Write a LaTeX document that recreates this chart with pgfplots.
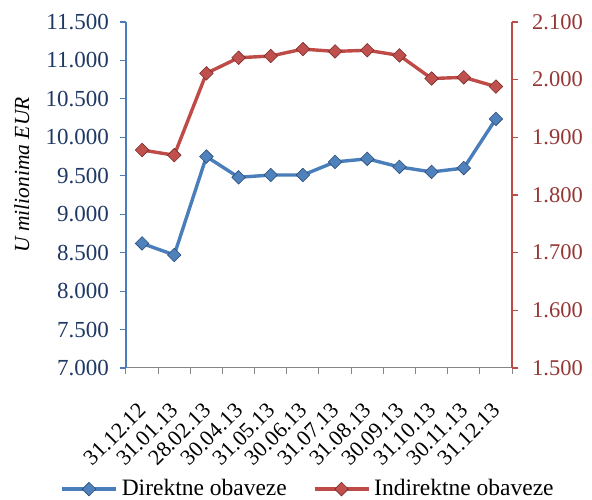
\documentclass[border=0pt]{standalone}
\usepackage{fontspec}
\setmainfont{Liberation Serif}
\usepackage{pgfplots}
\pgfplotsset{compat=1.18}
\definecolor{bluel}{HTML}{4A7EBB}
\definecolor{bluem}{HTML}{4F81BD}
\definecolor{bluee}{HTML}{2C4D75}
\definecolor{redl}{HTML}{BE4B48}
\definecolor{redm}{HTML}{C0504D}
\definecolor{rede}{HTML}{772C2A}
\definecolor{bluet}{HTML}{1F3864}
\definecolor{redt}{HTML}{953735}
\definecolor{axgray}{HTML}{868686}
\pgfplotsset{
  common/.style={
    at={(0,0)}, anchor=south west,
    scale only axis, width=386pt, height=346pt,
    xmin=-0.5, xmax=11.5,
    tick align=outside, major tick length=6pt, minor tick length=6pt,
    /pgf/number format/assume math mode=true,
    /pgf/number format/1000 sep={.},
    scaled y ticks=false,
    clip=false,
  },
  bluestyle/.style={color=bluel, line width=3.4pt, mark=square*,
    mark options={rotate=45, fill=bluem, draw=bluee, line width=0.6pt, mark size=4.8pt}},
  redstyle/.style={color=redl, line width=3.4pt, mark=square*,
    mark options={rotate=45, fill=redm, draw=rede, line width=0.6pt, mark size=4.8pt}},
}
\begin{document}
\fontsize{23pt}{27pt}\selectfont
\begin{tikzpicture}
\begin{axis}[common,
  ymin=7000, ymax=11500,
  axis x line*=bottom, axis y line*=left,
  x axis line style={-, draw=axgray, line width=1pt},
  y axis line style={-, draw=bluel, line width=1.4pt},
  ytick={7000,7500,...,11500},
  ytick style={draw=bluel, line width=1.2pt},
  yticklabel style={font=\fontsize{23pt}{27pt}\selectfont, text=bluet, xshift=-10pt, inner sep=1pt},
  xtick={0,...,11},
  xticklabels={31.12.12,31.01.13,28.02.13,30.04.13,31.05.13,30.06.13,31.07.13,31.08.13,30.09.13,31.10.13,30.11.13,31.12.13},
  major x tick style={draw=none},
  minor xtick={-0.5,0.5,...,11.5},
  minor x tick style={draw=axgray, line width=1pt},
  xticklabel style={font=\fontsize{22pt}{26pt}\selectfont, rotate=45, anchor=north east, inner sep=1pt, yshift=-15pt, xshift=-22pt},
  ylabel={\itshape U milionima EUR},
  ylabel style={font=\fontsize{21.5pt}{25pt}\selectfont, at={(axis description cs:-0.27,0.558)}, anchor=center},
]
\addplot[bluestyle] coordinates {(0,8620) (1,8470) (2,9750) (3,9480) (4,9510) (5,9510) (6,9680) (7,9720) (8,9615) (9,9550) (10,9600) (11,10240)};
\end{axis}
\begin{axis}[common,
  ymin=1500, ymax=2100,
  axis x line=none, axis y line*=right,
  y axis line style={-, draw=redl, line width=1.4pt},
  ytick={1500,1600,...,2100},
  ytick style={draw=redl, line width=1.2pt},
  yticklabel style={font=\fontsize{22.5pt}{26pt}\selectfont, text=redt, xshift=13pt, inner sep=1pt},
  legend style={at={(0.4715,-0.35)}, anchor=center, draw=none, fill=none,
    font=\fontsize{23.5pt}{27pt}\selectfont, column sep=2pt, inner sep=0pt,
    /tikz/every even column/.append style={column sep=24pt}},
  legend columns=2,
  legend image code/.code={\draw[#1, mark repeat=2, mark phase=2] plot coordinates {(0pt,0pt) (27pt,0pt) (54pt,0pt)};},
]
\addlegendimage{bluestyle}
\addlegendentry{Direktne obaveze}
\addplot[redstyle] coordinates {(0,1878) (1,1869) (2,2011) (3,2038) (4,2041) (5,2053) (6,2049) (7,2051) (8,2042) (9,2002) (10,2004) (11,1988)};
\addlegendentry{Indirektne obaveze}
\end{axis}
\pgfresetboundingbox
\path (-126pt,-132pt) rectangle (466pt,346pt+22pt);
\end{tikzpicture}
\end{document}
